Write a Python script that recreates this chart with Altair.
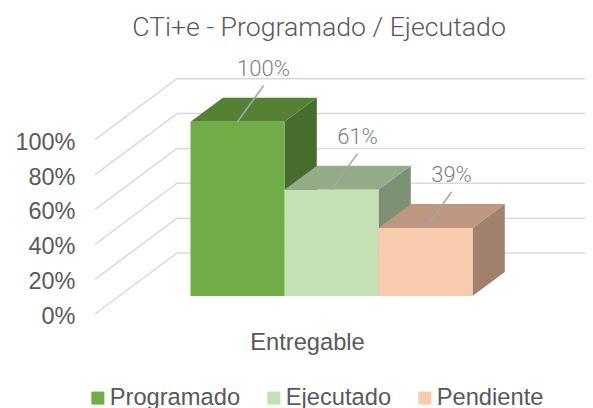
import altair as alt
import pandas as pd

# values
series = ["Programado", "Ejecutado", "Pendiente"]
values = [1.00, 0.61, 0.39]
labels = ["100%", "61%", "39%"]
ticks = [0.0, 0.2, 0.4, 0.6, 0.8, 1.0]
front_colors = ["#70AD47", "#C5E0B4", "#F8CBAD"]
top_colors = ["#558135", "#94AB88", "#BD977F"]
side_colors = ["#476D2C", "#7C9075", "#A1816B"]

title = "CTi+e - Programado / Ejecutado"
category = "Entregable"

# oblique projection of the 3-D chart: x in bar widths, y in axis units
DX, DY = 0.872, 0.35
FLOOR_L, WALL_R = -0.758, 4.454
D0, D1 = 0.295, 0.689
XDOM, YDOM = [-0.865, 4.454], [-0.5393, 1.5146]
LEAD_X, LEAD_Y = 0.277, 0.2065
LABEL_GAP = 0.095


def px(i, d):
    return i + DX * d


def py(v, d):
    return v + DY * d


X = alt.X(
    "x:Q",
    scale=alt.Scale(domain=XDOM, nice=False, zero=False),
    axis=alt.Axis(
        title=category, labels=False, ticks=False, domain=False, grid=False,
        titleFont="Liberation Sans", titleFontSize=23.7, titleFontWeight="normal",
        titleColor="#595959", titleX=222, titleY=-66, titleBaseline="middle",
        titleAlign="center", titleAnchor=None,
    ),
)
Y = alt.Y(
    "y:Q",
    scale=alt.Scale(domain=YDOM, nice=False, zero=False),
    axis=alt.Axis(
        title=None, values=ticks, format=".0%", ticks=False, domain=False, grid=False,
        labelFont="Liberation Sans", labelFontSize=23.5, labelColor="#595959",
        labelPadding=10, labelOffset=2.5,
    ),
)

# gridlines: floor diagonal + back wall
grid_rows = []
for t in ticks:
    for order, (u, d) in enumerate([(FLOOR_L, 0), (FLOOR_L, 1), (WALL_R - DX, 1)]):
        grid_rows.append({"t": t, "o": order, "x": px(u, d), "y": py(t, d)})
grid = alt.Chart(pd.DataFrame(grid_rows)).mark_line(color="#D9D9D9", strokeWidth=1.5).encode(
    x=X, y=Y, detail="t:N", order="o:Q",
)

layers = [grid]
for i, (name, v) in enumerate(zip(series, values)):
    side = pd.DataFrame([
        {"x": px(i + 1, D0), "y": py(v, D0), "y2": py(0, D0)},
        {"x": px(i + 1, D1), "y": py(v, D1), "y2": py(0, D1)},
    ])
    layers.append(alt.Chart(side).mark_area(color=side_colors[i]).encode(x=X, y=Y, y2="y2:Q"))
    top = pd.DataFrame([
        {"y": py(v, D0), "x": px(i, D0), "x2": px(i + 1, D0)},
        {"y": py(v, D1), "x": px(i, D1), "x2": px(i + 1, D1)},
    ])
    layers.append(
        alt.Chart(top).mark_area(color=top_colors[i], orient="horizontal").encode(x=X, x2="x2:Q", y=Y)
    )
    front = pd.DataFrame([{
        "s": name, "x": px(i, D0), "x2": px(i + 1, D0), "y": py(0, D0), "y2": py(v, D0),
    }])
    layers.append(alt.Chart(front).mark_rect().encode(
        x=X, x2="x2:Q", y=Y, y2="y2:Q",
        color=alt.Color(
            "s:N",
            scale=alt.Scale(domain=series, range=front_colors),
            sort=series,
            legend=alt.Legend(
                title=None, orient="none", direction="horizontal", columns=3,
                legendX=1, legendY=336, symbolType="square", symbolSize=169,
                symbolStrokeWidth=0, columnPadding=21, labelOffset=0,
                labelFont="Liberation Sans", labelFontSize=23.7, labelColor="#595959",
                labelLimit=300, padding=0,
            ),
        ),
    ))

lead_rows, text_rows = [], []
for i, (name, v, lab) in enumerate(zip(series, values, labels)):
    x0, y0 = px(i + 0.5, D0), py(v, D0)
    lead_rows.append({"s": name, "o": 0, "x": x0, "y": y0})
    lead_rows.append({"s": name, "o": 1, "x": x0 + LEAD_X, "y": y0 + LEAD_Y})
    text_rows.append({"x": x0 + LEAD_X, "y": y0 + LEAD_Y + LABEL_GAP, "t": lab})

leaders = alt.Chart(pd.DataFrame(lead_rows)).mark_line(color="#A6A6A6", strokeWidth=1.5).encode(
    x=X, y=Y, detail="s:N", order="o:Q"
)
texts = alt.Chart(pd.DataFrame(text_rows)).mark_text(
    font="Roboto", fontWeight=300, fontSize=22, color="#7F7F7F", align="center", baseline="middle"
).encode(x=X, y=Y, text="t:N")
layers += [leaders, texts]

chart = alt.layer(*layers).properties(
    width=500,
    height=358,
    background="white",
    padding={"left": 77, "top": 42, "right": 0, "bottom": 0},
    autosize=alt.AutoSizeParams(type="none"),
    title=alt.TitleParams(
        title, font="Roboto", fontWeight=300, fontSize=26.7, color="#595959",
        anchor="middle", dx=-16, offset=8,
    ),
).configure_view(stroke=None)

chart.save("out.html", embed_options={"renderer": "svg", "actions": False})
